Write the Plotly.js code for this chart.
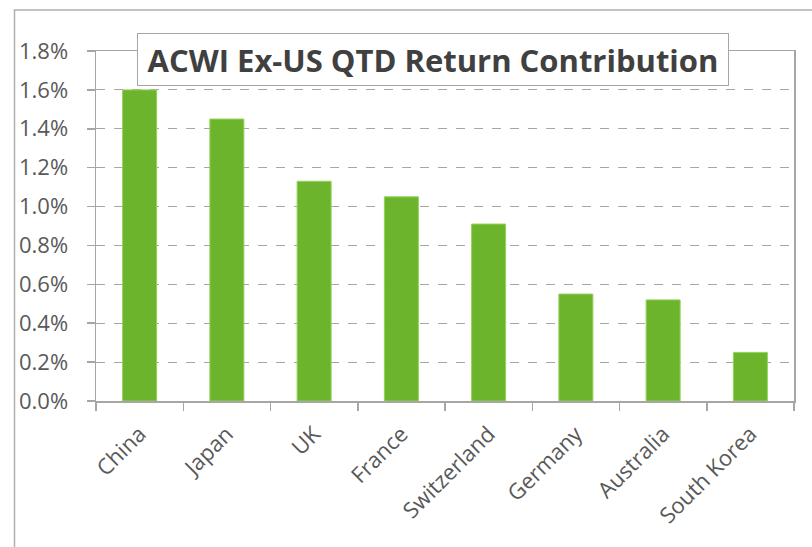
<!DOCTYPE html>
<html>
<head>
<meta charset="utf-8">
<script src="https://cdn.plot.ly/plotly-3.0.1.min.js"></script>
<style>
html,body{margin:0;padding:0;background:#fff;}
#chart{width:812px;height:547px;}
</style>
</head>
<body>
<div id="chart"></div>
<script>
const countries = ["China", "Japan", "UK", "France", "Switzerland", "Germany", "Australia", "South Korea"];
const contribution = [1.60, 1.45, 1.13, 1.05, 0.91, 0.55, 0.52, 0.25];
const yTicks = [0, 0.2, 0.4, 0.6, 0.8, 1.0, 1.2, 1.4, 1.6, 1.8];
const chartTitle = "ACWI Ex-US QTD Return Contribution";

const L = 96, R = 18, T = 51, B = 146, W = 812, H = 547;
const pw = W - L - R, ph = H - T - B;
const px = x => (x - L) / pw;
const py = y => 1 - (y - T) / ph;

const trace = {
  type: "bar",
  x: countries,
  y: contribution,
  marker: {color: "#6cb42b", line: {color: "#94d35a", width: 1}},
  hoverinfo: "x+y"
};

const yFont = {family: "Open Sans, sans-serif", size: 22, color: "#595959"};
const xFont = {family: "Open Sans, sans-serif", size: 22, color: "#595959"};

const layout = {
  width: W, height: H,
  margin: {l: L, r: R, t: T, b: B, pad: 0},
  paper_bgcolor: "#ffffff",
  plot_bgcolor: "#ffffff",
  showlegend: false,
  bargap: 0.61,
  font: yFont,
  xaxis: {
    type: "category",
    showline: true, linecolor: "#a6a6a6", linewidth: 1.5, mirror: true,
    ticks: "outside", ticklen: 8, tickcolor: "#a6a6a6", tickwidth: 1.5,
    tickson: "boundaries",
    tickangle: -45,
    ticklabelstandoff: 10,
    tickfont: xFont,
    showgrid: false
  },
  yaxis: {
    range: [0, 1.8],
    tickvals: yTicks,
    ticktext: yTicks.map(v => v.toFixed(1) + "%"),
    showline: true, linecolor: "#a6a6a6", linewidth: 1.5, mirror: true,
    ticks: "outside", ticklen: 8, tickcolor: "#a6a6a6", tickwidth: 1.5,
    ticklabelstandoff: 14,
    showgrid: true, gridcolor: "#a6a6a6", griddash: "dash", gridwidth: 1,
    zeroline: false,
    tickfont: yFont
  },
  shapes: [
    {type: "path", xref: "paper", yref: "paper",
     path: `M ${px(14.5)} ${py(547)} L ${px(14.5)} ${py(10)} L ${px(812)} ${py(10)}`,
     line: {color: "#b0b0b0", width: 1.5}}
  ],
  annotations: [
    {text: "<b>" + chartTitle + "</b>", xref: "paper", yref: "paper",
     x: px(433), y: py(59.5), xanchor: "center", yanchor: "middle",
     showarrow: false, width: 588, height: 49, borderpad: 1,
     bgcolor: "#ffffff", bordercolor: "#a6a6a6", borderwidth: 1,
     font: {family: "Open Sans, sans-serif", size: 31, color: "#404040"}}
  ]
};

Plotly.newPlot("chart", [trace], layout, {displayModeBar: false, staticPlot: true});
</script>
</body>
</html>
